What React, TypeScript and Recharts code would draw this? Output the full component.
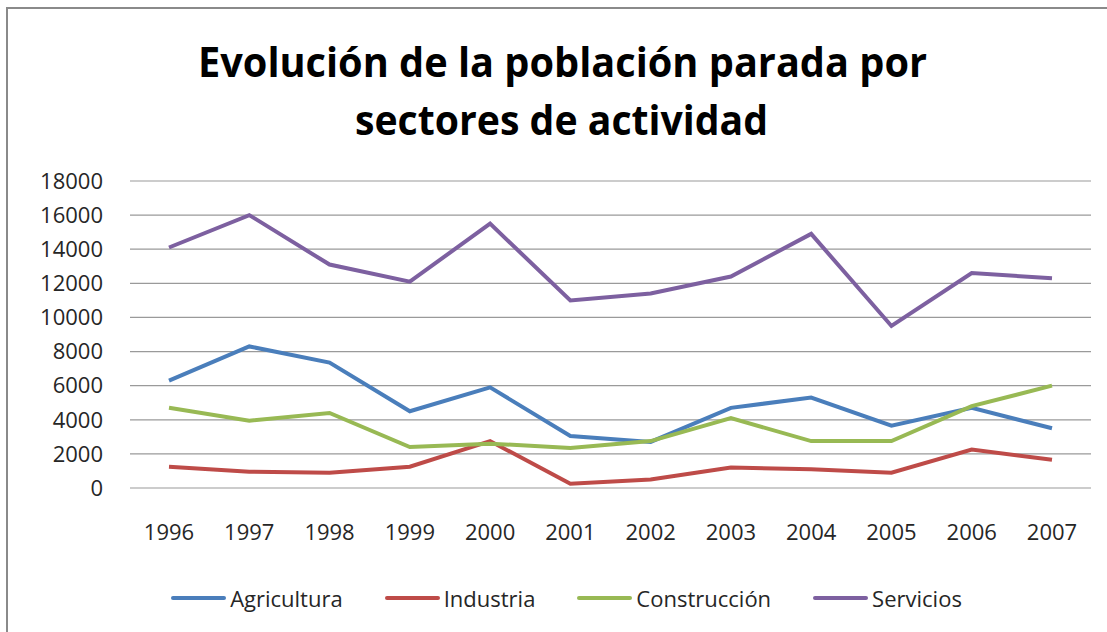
import React from 'react';
import { LineChart, Line, XAxis, YAxis, CartesianGrid, Legend } from 'recharts';

const years = ['1996', '1997', '1998', '1999', '2000', '2001', '2002', '2003', '2004', '2005', '2006', '2007'];
const seriesNames = ['Agricultura', 'Industria', 'Construcción', 'Servicios'];
const agricultura = [6300, 8300, 7350, 4500, 5900, 3050, 2700, 4700, 5300, 3650, 4700, 3500];
const industria = [1250, 950, 900, 1250, 2750, 250, 500, 1200, 1100, 900, 2250, 1650];
const construccion = [4700, 3950, 4400, 2400, 2600, 2350, 2750, 4100, 2750, 2750, 4800, 6000];
const servicios = [14100, 16000, 13100, 12100, 15500, 11000, 11400, 12400, 14900, 9500, 12600, 12300];
const yTicks = [0, 2000, 4000, 6000, 8000, 10000, 12000, 14000, 16000, 18000];
const titleLines = ['Evolución de la población parada por', 'sectores de actividad'];

const data = years.map((year, i) => ({
  year,
  Agricultura: agricultura[i],
  Industria: industria[i],
  'Construcción': construccion[i],
  Servicios: servicios[i],
}));

const FONT = '"Open Sans", sans-serif';
const TEXT = '#262626';

function LegendContent(props: any) {
  const payload = [...(props.payload || [])].sort(
    (a: any, b: any) => seriesNames.indexOf(a.value) - seriesNames.indexOf(b.value)
  );
  return (
    <div
      style={{
        display: 'flex',
        justifyContent: 'center',
        gap: 42,
        paddingLeft: 26,
        fontFamily: FONT,
        fontSize: 22,
        color: TEXT,
        lineHeight: '30px',
      }}
    >
      {payload.map((p: any) => (
        <div key={p.value} style={{ display: 'flex', alignItems: 'center' }}>
          <span
            style={{
              display: 'inline-block',
              width: 55,
              height: 4,
              borderRadius: 2,
              background: p.color,
              marginRight: 4,
            }}
          />
          <span>{p.value}</span>
        </div>
      ))}
    </div>
  );
}

export default function App() {
  return (
    <div
      style={{
        position: 'fixed',
        left: 0,
        top: 0,
        width: 1107,
        height: 632,
        overflow: 'hidden',
        background: '#fff',
      }}
    >
      <div
        style={{
          position: 'absolute',
          left: 6,
          top: 7,
          width: 1200,
          height: 700,
          border: '2px solid #8a8a8a',
          boxSizing: 'border-box',
        }}
      />
      <svg
        width={1107}
        height={170}
        style={{ position: 'absolute', left: 0, top: 0 }}
      >
        <text
          x={198}
          y={77}
          textLength={729}
          lengthAdjust="spacingAndGlyphs"
          style={{ fontFamily: FONT, fontWeight: 700, fontSize: 42, fill: '#000' }}
        >
          {titleLines[0]}
        </text>
        <text
          x={355}
          y={135}
          textLength={413}
          lengthAdjust="spacingAndGlyphs"
          style={{ fontFamily: FONT, fontWeight: 700, fontSize: 42, fill: '#000' }}
        >
          {titleLines[1]}
        </text>
      </svg>
      <div style={{ position: 'absolute', left: 0, top: 0 }}>
        <LineChart
          width={1107}
          height={632}
          data={data}
          margin={{ top: 181, right: 16, bottom: 84, left: 30 }}
        >
          <CartesianGrid vertical={false} stroke="#9a9a9a" strokeWidth={1.2} />
          <XAxis
            dataKey="year"
            axisLine={false}
            tickLine={false}
            padding={{ left: 39, right: 39 }}
            height={60}
            tickMargin={30}
            interval={0}
            tick={{ fontFamily: FONT, fontSize: 22, fill: TEXT }}
          />
          <YAxis
            domain={[0, 18000]}
            ticks={yTicks}
            width={100}
            axisLine={false}
            tickLine={false}
            tickMargin={21}
            interval={0}
            tick={{ fontFamily: FONT, fontSize: 22, fill: TEXT }}
          />
          <Legend
            verticalAlign="middle"
            align="center"
            wrapperStyle={{ top: 583, left: 0, width: 1107 }}
            content={<LegendContent />}
          />
          <Line type="linear" dataKey="Agricultura" stroke="#4a7ebb" strokeWidth={4} dot={false} isAnimationActive={false} />
          <Line type="linear" dataKey="Industria" stroke="#be4b48" strokeWidth={4} dot={false} isAnimationActive={false} />
          <Line type="linear" dataKey="Construcción" stroke="#98b954" strokeWidth={4} dot={false} isAnimationActive={false} />
          <Line type="linear" dataKey="Servicios" stroke="#7d60a0" strokeWidth={4} dot={false} isAnimationActive={false} />
        </LineChart>
      </div>
    </div>
  );
}
